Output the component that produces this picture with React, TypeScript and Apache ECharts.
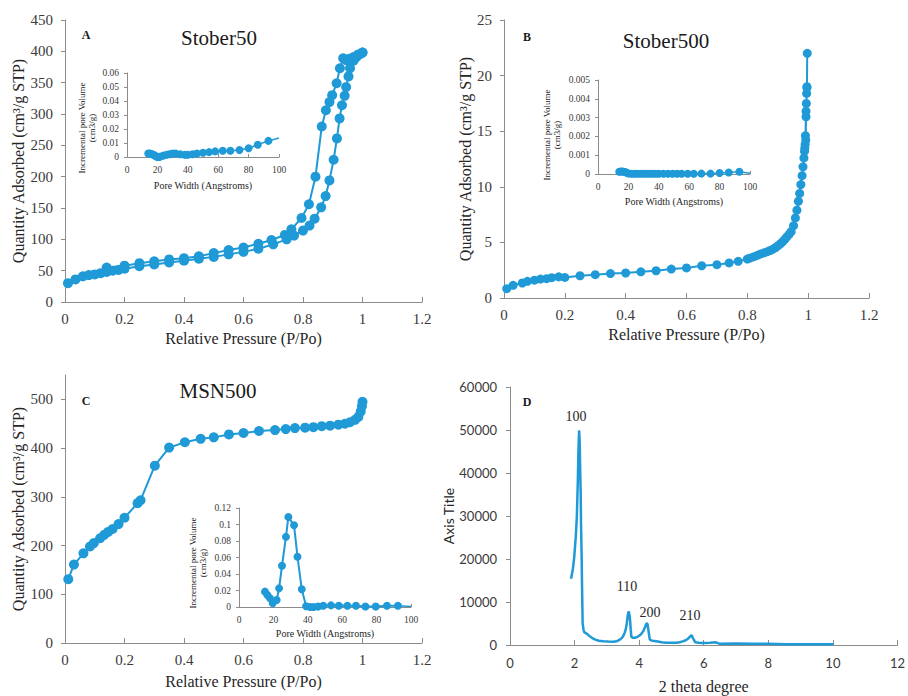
import React, { useEffect, useRef } from "react";
import * as echarts from "echarts";

// ---------- Panel A: Stober50 isotherm ----------
const pressureAAds = [0.01, 0.035, 0.06, 0.08, 0.1, 0.12, 0.14, 0.16, 0.18, 0.2, 0.25, 0.3, 0.35, 0.4, 0.45, 0.5, 0.55, 0.6, 0.65, 0.7, 0.745, 0.77, 0.8, 0.822, 0.839, 0.861, 0.876, 0.889, 0.903, 0.914, 0.923, 0.931, 0.94, 0.945, 0.953, 0.958, 0.97, 0.98, 0.99, 1.0];
const quantityAAds = [30, 36, 41, 43, 44, 46, 48, 50, 51, 53, 57, 60, 63, 66, 69, 72, 76, 80, 85, 92, 100, 106, 114, 122, 133, 151, 169, 194, 227, 261, 293, 314, 329, 343, 360, 373, 385, 391, 395, 398];
const pressureADes = [1.0, 0.985, 0.97, 0.955, 0.945, 0.935, 0.924, 0.913, 0.898, 0.889, 0.877, 0.863, 0.842, 0.82, 0.795, 0.761, 0.739, 0.694, 0.65, 0.6, 0.55, 0.5, 0.45, 0.4, 0.35, 0.3, 0.25, 0.2, 0.14];
const quantityADes = [398, 395, 391, 388, 386, 389, 373, 349, 330, 319, 306, 280, 200, 156, 134, 116, 107, 99, 93, 87, 83, 78, 73, 70, 68, 65, 62, 58, 55];

// Inset A: pore size distribution
const poreWidthA = [14, 15, 16, 17, 18, 19, 20, 21, 22, 24, 26, 28, 30, 32, 35, 38, 40, 43, 46, 50, 54, 58, 63, 68, 74, 80, 86, 93];
const poreVolumeA = [0.0025, 0.0025, 0.0022, 0.0018, 0.0012, 0.0005, 0.0, 0.0, 0.0003, 0.001, 0.0015, 0.002, 0.0025, 0.0025, 0.002, 0.0015, 0.0015, 0.002, 0.0025, 0.003, 0.0035, 0.004, 0.0045, 0.0045, 0.005, 0.0062, 0.0088, 0.0115];
const poreWidthAEnd = [93, 100];
const poreVolumeAEnd = [0.0115, 0.0135];

// ---------- Panel B: Stober500 isotherm ----------
const pressureB = [0.009, 0.03, 0.06, 0.077, 0.1, 0.12, 0.14, 0.157, 0.18, 0.2, 0.25, 0.3, 0.35, 0.4, 0.45, 0.5, 0.55, 0.6, 0.65, 0.7, 0.74, 0.77, 0.8, 0.81, 0.822, 0.833, 0.844, 0.855, 0.866, 0.875, 0.883, 0.892, 0.9, 0.908, 0.916, 0.923, 0.93, 0.937, 0.944, 0.952, 0.958, 0.963, 0.968, 0.972, 0.976, 0.98, 0.983, 0.986, 0.988, 0.99, 0.992, 0.993, 0.994, 0.996, 0.997, 0.996, 0.995, 0.993, 0.991, 0.989];
const quantityB = [0.84, 1.14, 1.35, 1.5, 1.6, 1.7, 1.74, 1.83, 1.9, 1.85, 2.0, 2.1, 2.2, 2.25, 2.35, 2.45, 2.6, 2.7, 2.9, 3.0, 3.15, 3.3, 3.5, 3.6, 3.72, 3.84, 3.96, 4.06, 4.17, 4.27, 4.38, 4.52, 4.68, 4.86, 5.06, 5.27, 5.5, 5.72, 5.96, 6.5, 7.2, 7.9, 8.7, 9.4, 10.2, 11.0, 11.8, 12.6, 13.2, 13.8, 14.2, 16.3, 17.5, 19.0, 22.0, 18.9, 18.4, 16.8, 14.6, 13.5];

// Inset B
const poreWidthB = [14, 15, 16, 17, 18, 19, 20, 22, 24, 26, 28, 30, 32, 34, 36, 38, 40, 43, 46, 49, 52, 55, 59, 63, 68, 74, 80, 86, 93];
const poreVolumeB = [0.00012, 0.00013, 0.00013, 0.00012, 0.0001, 0.00006, 0.00003, 0.00001, 0.00001, 0.00001, 0.00001, 0.00001, 0.00001, 0.00001, 0.00001, 0.00001, 0.00001, 0.00001, 0.00001, 0.00001, 0.00001, 0.00001, 0.00001, 0.00001, 0.00002, 0.00002, 0.00005, 0.00008, 0.00012];
const poreWidthBEnd = [93, 100];
const poreVolumeBEnd = [0.00012, 0.00004];

// ---------- Panel C: MSN500 isotherm ----------
const pressureC = [0.011, 0.03, 0.062, 0.084, 0.097, 0.118, 0.132, 0.145, 0.16, 0.18, 0.2, 0.244, 0.254, 0.302, 0.35, 0.403, 0.456, 0.5, 0.551, 0.6, 0.652, 0.706, 0.742, 0.773, 0.807, 0.835, 0.863, 0.891, 0.919, 0.941, 0.958, 0.975, 0.986, 0.994, 0.998, 1.0];
const quantityC = [131, 161, 184, 198, 205, 215, 222, 228, 234, 244, 257, 287, 293, 364, 401, 412, 419, 422, 428, 431, 435, 437, 439, 441, 442, 443, 445, 446, 448, 450, 453, 458, 464, 475, 486, 495];

// Inset C
const poreWidthC = [15.1, 16.5, 18, 19.6, 21.9, 23.3, 25, 27.3, 28.7, 32, 34, 36.5, 39, 41.3, 43.4, 46, 49, 53.5, 58, 63, 68, 73.5, 79.5, 86, 92.4];
const poreVolumeC = [0.0186, 0.0145, 0.0105, 0.0045, 0.0085, 0.0226, 0.05, 0.085, 0.109, 0.099, 0.061, 0.0215, 0.001, 0.0, 0.0, 0.0005, 0.0015, 0.002, 0.0015, 0.0015, 0.0015, 0.0005, 0.0005, 0.0015, 0.0015];
const poreWidthCEnd = [92.4, 100];
const poreVolumeCEnd = [0.0015, 0.0005];

// ---------- Panel D: XRD pattern ----------
const twoTheta = [1.89, 1.95, 1.99, 2.04, 2.07, 2.1, 2.12, 2.14, 2.16, 2.17, 2.19, 2.2, 2.22, 2.23, 2.25, 2.28, 2.3, 2.34, 2.38, 2.43, 2.48, 2.55, 2.64, 2.75, 2.89, 3.05, 3.2, 3.3, 3.4, 3.46, 3.5, 3.55, 3.59, 3.62, 3.64, 3.66, 3.68, 3.7, 3.72, 3.74, 3.76, 3.8, 3.87, 3.95, 4.02, 4.08, 4.14, 4.19, 4.23, 4.26, 4.28, 4.31, 4.33, 4.4, 4.53, 4.7, 4.84, 5.0, 5.15, 5.25, 5.35, 5.44, 5.5, 5.56, 5.61, 5.64, 5.66, 5.7, 5.74, 5.85, 5.97, 6.2, 6.38, 6.48, 7.0, 7.5, 8.0, 8.53, 9.2, 10.02];
const intensity = [15400, 17800, 20500, 25500, 29800, 38000, 45300, 49900, 47000, 42000, 35000, 28000, 20000, 14300, 5000, 3400, 3000, 2800, 2600, 2300, 2000, 1600, 1240, 1000, 850, 800, 775, 850, 1240, 1600, 2000, 2800, 3800, 5200, 6500, 7400, 7800, 7000, 5700, 3500, 1860, 1700, 1700, 1900, 2250, 2700, 3400, 4300, 5100, 4800, 3800, 2200, 1240, 1000, 850, 650, 540, 520, 540, 650, 850, 1100, 1400, 1800, 2250, 2100, 1700, 1100, 620, 500, 465, 500, 620, 310, 330, 310, 280, 155, 180, 155];

// Tick lists
const pressureTicks = [0, 0.2, 0.4, 0.6, 0.8, 1, 1.2];
const peakLabels = ["100", "110", "200", "210"];

const BLUE = "#1f9ad7";
const AXIS = "#8c8c8c";
const LABEL = "#3a3a3a";
const SERIF = "Liberation Serif";
const SANS = "Lato";

const zip = (a: number[], b: number[]) => a.map((v, i) => [v, b[i]]);
const plain = (v: number) => String(+v.toFixed(6));

function xAxisCfg(gridIndex: number, o: any) {
  return {
    type: "value",
    gridIndex,
    min: o.min,
    max: o.max,
    interval: o.interval,
    axisLine: { show: true, onZero: false, lineStyle: { color: AXIS, width: 1 } },
    axisTick: { show: true, inside: true, length: o.tick ?? 5, lineStyle: { color: AXIS } },
    axisLabel: { color: LABEL, fontFamily: o.font ?? SERIF, fontSize: o.fontSize ?? 15, margin: o.margin ?? 9, formatter: plain },
    splitLine: { show: false },
    name: o.name,
    nameLocation: "middle",
    nameGap: o.nameGap,
    nameTextStyle: { fontFamily: o.nameFont ?? SERIF, fontSize: o.nameSize ?? 16, color: "#262626" },
  };
}

function yAxisCfg(gridIndex: number, o: any) {
  return {
    type: "value",
    gridIndex,
    min: o.min,
    max: o.max,
    interval: o.interval,
    axisLine: { show: true, onZero: false, lineStyle: { color: AXIS, width: 1 } },
    axisTick: { show: true, inside: false, length: o.tick ?? 4, lineStyle: { color: AXIS } },
    axisLabel: { color: LABEL, fontFamily: o.font ?? SERIF, fontSize: o.fontSize ?? 15, margin: o.margin ?? 12, showMaxLabel: o.showMax ?? true, formatter: plain },
    splitLine: { show: false },
    name: o.name,
    nameLocation: "middle",
    nameGap: o.nameGap,
    nameTextStyle: { fontFamily: o.nameFont ?? SERIF, fontSize: o.nameSize ?? 16, color: "#262626" },
  };
}

function lineSeries(xi: number, data: number[][], o: any = {}) {
  return {
    type: "line",
    xAxisIndex: xi,
    yAxisIndex: xi,
    data,
    symbol: o.noSymbol ? "none" : "circle",
    symbolSize: o.size ?? 10,
    showSymbol: !o.noSymbol,
    itemStyle: { color: BLUE },
    lineStyle: { color: BLUE, width: o.width ?? 2 },
    z: o.z ?? 3,
    silent: true,
  };
}

function txt(x: number, y: number, text: string, o: any = {}) {
  return {
    type: "text",
    x,
    y,
    rotation: o.rotation ?? 0,
    z: 10,
    style: {
      text,
      fill: o.color ?? "#1a1a1a",
      fontFamily: o.font ?? SERIF,
      fontSize: o.size ?? 13,
      fontWeight: o.bold ? "bold" : "normal",
      textAlign: o.align ?? "center",
      textVerticalAlign: "middle",
      lineHeight: o.lineHeight,
    },
  };
}

export default function App() {
  const ref = useRef<HTMLDivElement>(null);
  useEffect(() => {
    if (!ref.current) return;
    const chart = echarts.init(ref.current, undefined, { renderer: "svg" });
    const insetTitle = "Incremental pore Volume\n(cm3/g)";
    const option: any = {
      animation: false,
      backgroundColor: "#ffffff",
      textStyle: { fontFamily: SERIF },
      grid: [
        { left: 65, top: 20, width: 357, height: 282 },
        { left: 127, top: 73, width: 152, height: 84 },
        { left: 504, top: 20, width: 365, height: 278 },
        { left: 598, top: 80, width: 152, height: 94 },
        { left: 65, top: 375, width: 357, height: 268 },
        { left: 239, top: 508, width: 172, height: 99 },
        { left: 510, top: 387, width: 390, height: 258 },
      ],
      xAxis: [
        xAxisCfg(0, { min: pressureTicks[0], max: pressureTicks[6], interval: 0.2, name: "Relative Pressure (P/Po)", nameGap: 28 }),
        xAxisCfg(1, { min: 0, max: 100, interval: 20, fontSize: 9.5, margin: 8, tick: 3, name: "Pore Width (Angstroms)", nameGap: 23, nameSize: 10 }),
        xAxisCfg(2, { min: pressureTicks[0], max: pressureTicks[6], interval: 0.2, name: "Relative Pressure (P/Po)", nameGap: 28 }),
        xAxisCfg(3, { min: 0, max: 100, interval: 20, fontSize: 9.5, margin: 8, tick: 3, name: "Pore Width (Angstroms)", nameGap: 22, nameSize: 10 }),
        xAxisCfg(4, { min: pressureTicks[0], max: pressureTicks[6], interval: 0.2, name: "Relative Pressure (P/Po)", nameGap: 30 }),
        xAxisCfg(5, { min: 0, max: 100, interval: 20, fontSize: 9.5, margin: 8, tick: 3, name: "Pore Width (Angstroms)", nameGap: 21, nameSize: 10 }),
        xAxisCfg(6, { min: 0, max: 12, interval: 2, font: SANS, fontSize: 13, margin: 11, name: "2 theta degree", nameGap: 33 }),
      ],
      yAxis: [
        yAxisCfg(0, { min: 0, max: 450, interval: 50, name: "Quantity Adsorbed (cm³/g STP)", nameGap: 38 }),
        yAxisCfg(1, { min: 0, max: 0.06, interval: 0.01, fontSize: 9.5, margin: 8, tick: 3 }),
        yAxisCfg(2, { min: 0, max: 25, interval: 5, name: "Quantity Adsorbed (cm³/g STP)", nameGap: 31 }),
        yAxisCfg(3, { min: 0, max: 0.005, interval: 0.001, fontSize: 9.5, margin: 8, tick: 3 }),
        yAxisCfg(4, { min: 0, max: 550, interval: 100, showMax: false, name: "Quantity Adsorbed (cm³/g STP)", nameGap: 38 }),
        yAxisCfg(5, { min: 0, max: 0.12, interval: 0.02, fontSize: 9.5, margin: 8, tick: 3 }),
        yAxisCfg(6, { min: 0, max: 60000, interval: 10000, font: SANS, fontSize: 13, margin: 13, name: "Axis Title", nameFont: SANS, nameSize: 14, nameGap: 55 }),
      ],
      series: [
        lineSeries(0, zip(pressureAAds, quantityAAds), { size: 10 }),
        lineSeries(0, zip(pressureADes, quantityADes), { size: 10 }),
        lineSeries(1, zip(poreWidthA, poreVolumeA), { size: 8, width: 1.5 }),
        lineSeries(1, zip(poreWidthAEnd, poreVolumeAEnd), { noSymbol: true, width: 1.5 }),
        lineSeries(2, zip(pressureB, quantityB), { size: 9 }),
        lineSeries(3, zip(poreWidthB, poreVolumeB), { size: 8, width: 1.5 }),
        lineSeries(3, zip(poreWidthBEnd, poreVolumeBEnd), { noSymbol: true, width: 1.5 }),
        lineSeries(4, zip(pressureC, quantityC), { size: 10 }),
        lineSeries(5, zip(poreWidthC, poreVolumeC), { size: 8, width: 2 }),
        lineSeries(5, zip(poreWidthCEnd, poreVolumeCEnd), { noSymbol: true, width: 1.5 }),
        lineSeries(6, zip(twoTheta, intensity), { noSymbol: true, width: 2.5 }),
      ],
      graphic: [
        txt(86, 35, "A", { bold: true, size: 12 }),
        txt(219, 38, "Stober50", { size: 21 }),
        txt(527, 37, "B", { bold: true, size: 12 }),
        txt(666, 41, "Stober500", { size: 21 }),
        txt(86, 401, "C", { bold: true, size: 12 }),
        txt(218, 391, "MSN500", { size: 21 }),
        txt(527, 402, "D", { bold: true, size: 12 }),
        txt(576, 416, peakLabels[0], { size: 14, color: "#262626" }),
        txt(627, 586, peakLabels[1], { size: 14, color: "#262626" }),
        txt(650, 612, peakLabels[2], { size: 14, color: "#262626" }),
        txt(690, 615, peakLabels[3], { size: 14, color: "#262626" }),
        txt(87, 128, insetTitle, { rotation: Math.PI / 2, size: 9, lineHeight: 10 }),
        txt(552, 135, insetTitle, { rotation: Math.PI / 2, size: 9, lineHeight: 10 }),
        txt(198, 563, insetTitle, { rotation: Math.PI / 2, size: 9, lineHeight: 10 }),
      ],
    };
    chart.setOption(option);
    return () => chart.dispose();
  }, []);
  return (
    <div
      ref={ref}
      style={{ position: "fixed", left: 0, top: 0, width: 908, height: 696, background: "#fff" }}
    />
  );
}
